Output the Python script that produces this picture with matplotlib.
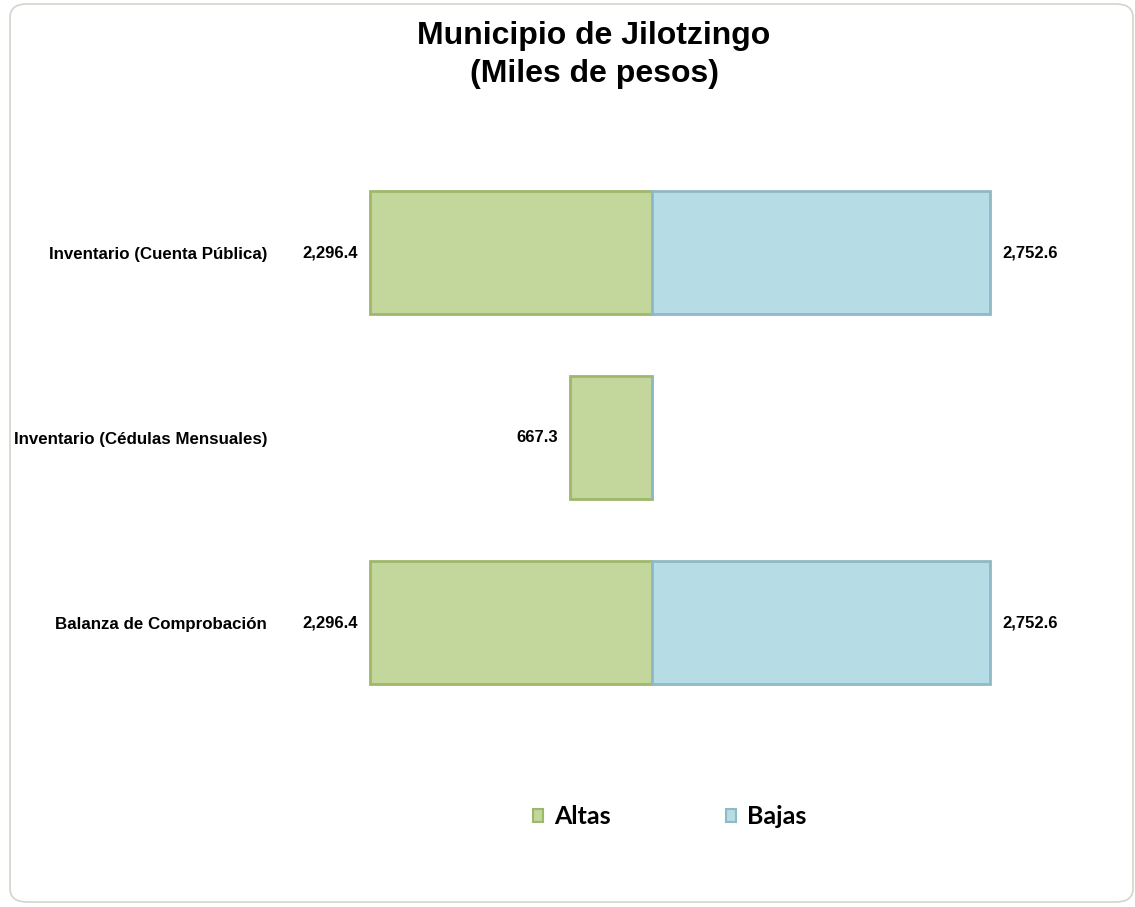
import matplotlib.pyplot as plt
from matplotlib.patches import FancyBboxPatch, Patch

categorias = ["Inventario (Cuenta Pública)", "Inventario (Cédulas Mensuales)", "Balanza de Comprobación"]
altas = [2296.4, 667.3, 2296.4]
bajas = [2752.6, 0, 2752.6]

verde = "#C3D69B"
verde_borde = "#9DB86A"
azul = "#B6DDE6"
azul_borde = "#8FB9C6"

W, H = 1135, 907
fig = plt.figure(figsize=(W / 100, H / 100), dpi=100)
plt.rcParams['font.family'] = ['Liberation Sans', 'DejaVu Sans']

# marco redondeado
marco = FancyBboxPatch((10 / W, 5 / H), 1123 / W, 898 / H, boxstyle="round,pad=0,rounding_size=0.015",
                       transform=fig.transFigure, facecolor="none", edgecolor="#d4d4cc", lw=1.2, zorder=-1)
fig.patches.append(marco)

ax = fig.add_axes([370 / W, 1 - 715 / H, 620 / W, 555 / H])
ax.set_facecolor("none")
y = list(range(len(categorias)))

ax.barh(y, [-a for a in altas], height=0.67, color=verde, edgecolor=verde_borde, lw=2, clip_on=False)
ax.barh(y, bajas, height=0.67, color=azul, edgecolor=azul_borde, lw=2, clip_on=False)

ax.set_xlim(-2296.4, 2752.6)
ax.set_ylim(2.5, -0.5)
ax.set_yticks(y)
ax.set_yticklabels(categorias, fontsize=12.2, fontweight="bold")
ax.tick_params(axis="y", length=0, pad=74)
ax.set_xticks([])
for s in ax.spines.values():
    s.set_visible(False)

for i in y:
    if altas[i] > 0:
        ax.annotate(f"{altas[i]:,.1f}", (-altas[i], i), xytext=(-9, 0), textcoords="offset points",
                    ha="right", va="center", fontsize=12, fontweight="bold")
    if bajas[i] > 0:
        ax.annotate(f"{bajas[i]:,.1f}", (bajas[i], i), xytext=(9, 0), textcoords="offset points",
                    ha="left", va="center", fontsize=12, fontweight="bold")

fig.text(594 / W, 1 - 55 / H, "Municipio de Jilotzingo\n(Miles de pesos)", ha="center", va="center",
         fontsize=23, fontweight="bold", linespacing=1.38)

handles = [Patch(facecolor=verde, edgecolor=verde_borde, lw=1.5),
           Patch(facecolor=azul, edgecolor=azul_borde, lw=1.5)]
fig.legend(handles, ["Altas", "Bajas"], loc="center", bbox_to_anchor=(670 / W, 1 - 817 / H), ncol=2,
           frameon=False, handlelength=0.4, handleheight=0.4, handletextpad=0.45, columnspacing=4.6,
           prop={"family": ["Lato", "DejaVu Sans"], "weight": "bold", "size": 18})

fig.savefig("out.png", dpi=100)
